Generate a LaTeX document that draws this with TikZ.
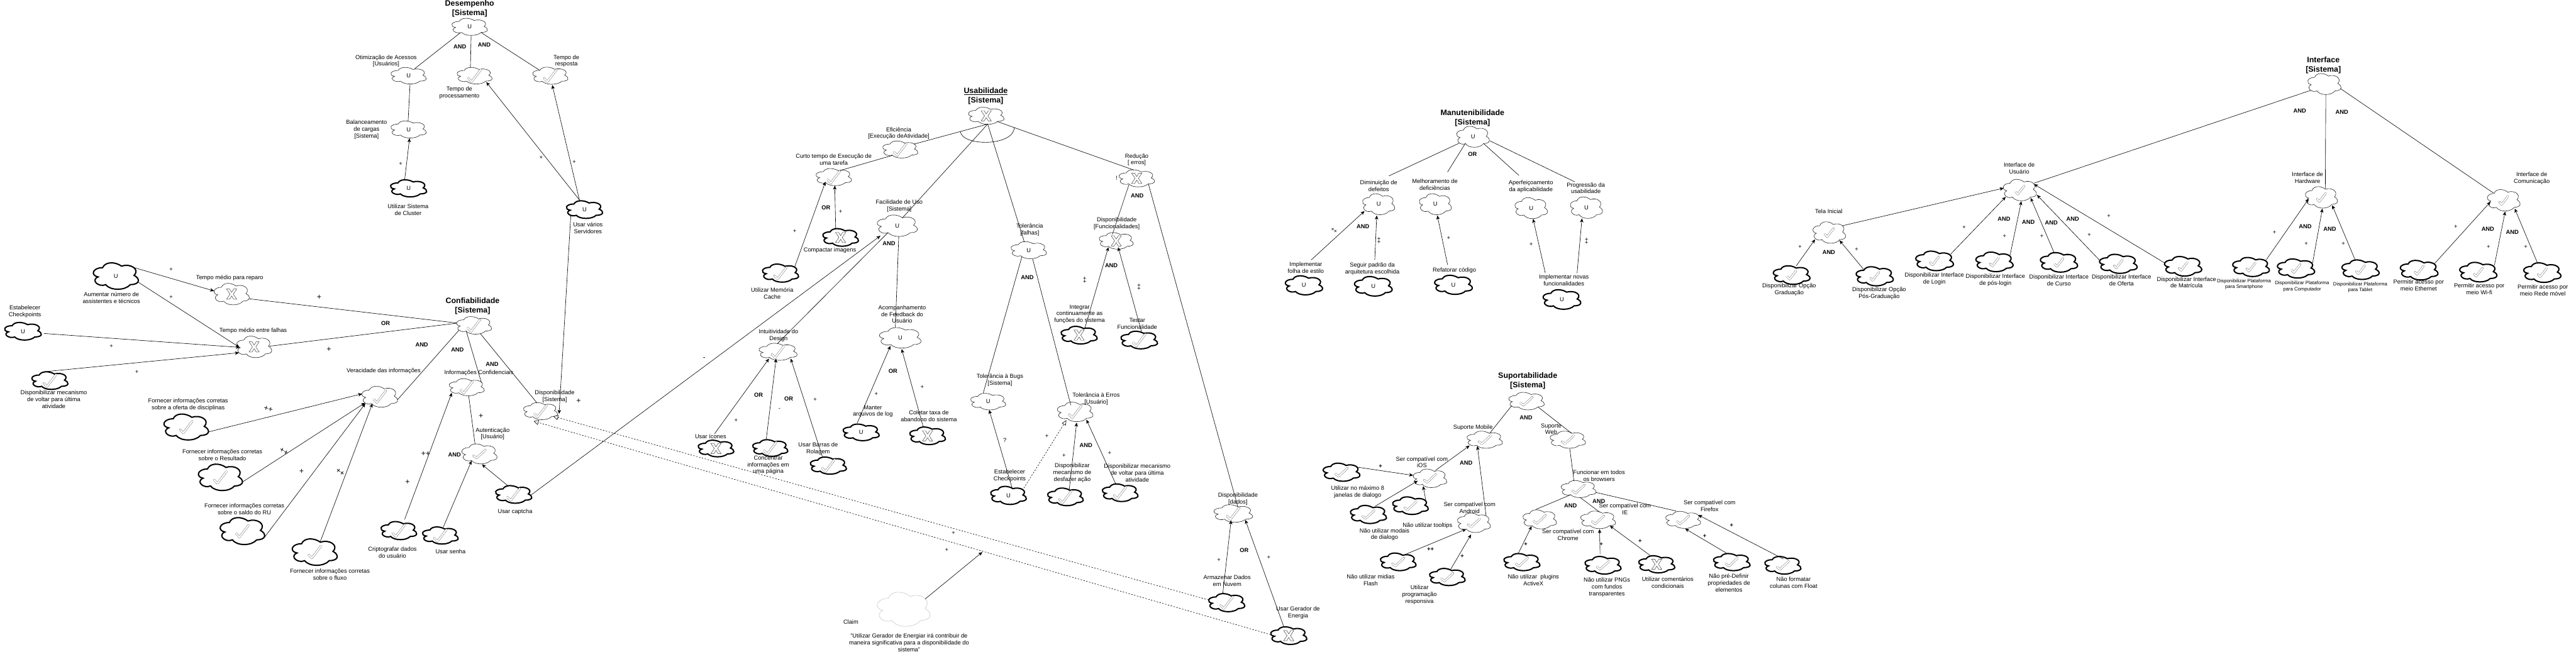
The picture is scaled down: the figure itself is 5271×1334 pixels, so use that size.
\documentclass[tikz,border=0pt]{standalone}
\usepackage{fontspec}
\setmainfont{Liberation Sans}
\usetikzlibrary{arrows.meta}
\newcount\lbn
\newcommand\lb[4][lbl]{\global\advance\lbn by 1 \node[#1] (t\the\lbn) at (#2,#3) {#4};}
\def\mktxtu{U}\def\mktxtc{}\def\mktxtx{}\def\mktxtn{}
\def\chkw{30}\def\chkh{29}
\newcommand\mkdrawu[1]{}
\newcommand\mkdrawn[1]{}
\newcommand\mkdrawc[1]{\begin{scope}[shift={(#1.center)},x=\chkw pt,y=-\chkh pt]
 \draw[chkout] (-.42,.18) -- (-.2,.42) -- (.42,-.42);
 \draw[chkin] (-.42,.18) -- (-.2,.42) -- (.42,-.42);
 \end{scope}}
\newcommand\mkdrawx[1]{\begin{scope}[shift={(#1.center)},x=21pt,y=-21pt]
 \draw[xmk] (-.5,-.5)--(-.2,-.5)--(0,-.17)--(.2,-.5)--(.5,-.5)--(.16,0)--(.5,.5)--(.2,.5)--(0,.17)--(-.2,.5)--(-.5,.5)--(-.16,0)--cycle;
 \end{scope}}
\newcommand\sg[7]{%
 \node[sgbox,minimum width=#4pt,minimum height=#5pt] (#1) at (#2,#3) {\csname mktxt#7\endcsname};
 \begin{scope}[shift={(#1.center)},x=#4pt,y=-#5pt]
 \draw[#6] (-.293,-.318) .. controls (-.517,-.318) and (-.573,-.026) .. (-.394,.033)
  .. controls (-.573,.161) and (-.372,.442) .. (-.226,.325)
  .. controls (-.126,.558) and (.209,.558) .. (.321,.325)
  .. controls (.545,.325) and (.545,.091) .. (.405,-.026)
  .. controls (.545,-.259) and (.321,-.493) .. (.126,-.376)
  .. controls (-.014,-.551) and (-.237,-.551) .. (-.293,-.318) -- cycle;
 \end{scope}
 \csname mkdraw#7\endcsname{#1}}
\newcommand\lk[7]{\draw[#1] ([shift={(#3,#4)}]#2.center) -- ([shift={(#6,#7)}]#5.center);}
\tikzset{
 sgbox/.style={inner sep=0pt,outer sep=0pt,font=\fontsize{12}{14}\selectfont},
 thn/.style={line width=.8pt,black!85},
 thk/.style={line width=2.6pt,black},
 gry/.style={line width=.8pt,black!22},
 chkout/.style={line width=4pt,black!75,line cap=round,line join=round},
 chkin/.style={line width=3.1pt,white,line cap=round,line join=round},
 xmk/.style={line width=.6pt,black!80,fill=white,line join=round},
 lbl/.style={inner sep=0pt,align=center,font=\fontsize{12}{14}\selectfont},
 lbs/.style={inner sep=0pt,align=center,font=\fontsize{10}{12}\selectfont},
 ttl/.style={inner sep=0pt,align=center,font=\fontsize{16}{19}\selectfont\bfseries},
 opl/.style={inner sep=0pt,font=\fontsize{12}{14}\selectfont\bfseries},
 mk/.style={inner sep=0pt,font=\fontsize{12}{14}\selectfont},
 mkb/.style={inner sep=0pt,font=\fontsize{16}{18}\selectfont},
 mkh/.style={inner sep=0pt,font=\fontsize{12}{14}\selectfont\bfseries},
 ln/.style={line width=.8pt,black},
 ar/.style={line width=.8pt,black,-{Stealth[length=8pt,width=7pt,inset=2pt]}},
 da/.style={line width=.8pt,black,dash pattern=on 3pt off 3pt,-{Triangle[open,length=10pt,width=10pt,fill=white]}},
}
\begin{document}
\begin{tikzpicture}[x=1pt,y=-1pt]
\useasboundingbox (0,0) rectangle (5271,1334);
% ---- Desempenho
\sg{des}{961}{55}{73}{35}{thn}{u}
\sg{oti}{836}{155}{72.5}{34}{thn}{u}
\sg{tpr}{971}{155}{72}{34}{thn}{c}
\sg{tre}{1126}{155}{72.5}{35}{thn}{c}
\sg{bal}{836}{265}{72.5}{35}{thn}{u}
\sg{clu}{836}{385.5}{74}{35}{thk}{u}
\sg{vse}{1196}{429}{74}{36}{thk}{u}
% ---- Confiabilidade
\sg{aum}{237}{565}{92}{54}{thk}{u}
\sg{rep}{474}{602}{72}{44}{thn}{x}
\sg{est}{47}{678}{75}{36}{thk}{u}
\sg{fal}{520}{710}{72}{44}{thn}{x}
\sg{vol}{102}{779}{74}{36}{thk}{c}
\sg{ofe}{381}{874}{91}{53}{thk}{c}
\sg{res}{451}{977}{90}{54}{thk}{c}
\sg{sal}{496}{1087}{91}{55}{thk}{c}
\sg{flu}{644}{1130}{92}{54}{thk}{c}
\sg{ver}{777}{812}{73}{43}{thn}{c}
\sg{con}{970}{666}{72}{36}{thn}{c}
\sg{inf}{955}{792.5}{72}{35}{thn}{c}
\sg{dis}{1106}{841.5}{70}{35}{thn}{c}
\sg{cri}{816}{1086}{73}{37}{thk}{c}
\sg{sen}{901}{1096}{73}{35}{thk}{c}
\sg{cap}{1051}{1012}{74}{36}{thk}{c}
\def\chkh{20}
\sg{aut}{981}{929}{72}{41}{thn}{c}
\def\chkh{29}
% ---- Usabilidade
\sg{usa}{2018}{237}{73}{35}{thn}{x}
\sg{efi}{1842}{306}{72}{35}{thn}{c}
\sg{cur}{1706}{362.5}{73}{35}{thn}{c}
\sg{mem}{1597}{559}{74}{37}{thk}{c}
\sg{com}{1720}{486}{73}{36}{thk}{x}
\sg{fac}{1836}{462}{82}{44}{thn}{u}
\sg{acp}{1842}{691.5}{85}{42}{thn}{u}
\sg{ini}{1592}{720}{78}{35}{thn}{c}
\sg{ico}{1465}{918}{73}{34}{thk}{x}
\sg{cnc}{1576}{917}{72}{34}{thk}{c}
\sg{bar}{1695}{953}{74}{35}{thk}{c}
\sg{log}{1762}{885}{74}{34}{thk}{u}
\sg{aba}{1898}{892}{73}{36}{thk}{x}
\sg{tfa}{2105}{512}{73}{35}{thn}{u}
\sg{bug}{2022}{822}{72}{34}{thn}{u}
\sg{err}{2200}{843}{73}{40}{thn}{c}
\sg{chp}{2063.5}{1014}{73}{37}{thk}{u}
\sg{dfz}{2180}{1017}{73}{36}{thk}{c}
\sg{vlt}{2292}{1008.5}{73}{36}{thk}{c}
\sg{red}{2326}{365}{73}{35}{thn}{x}
\sg{dfu}{2284}{493}{70}{34}{thn}{x}
\sg{itg}{2208}{686}{74}{36}{thk}{x}
\sg{tst}{2331}{696}{75}{36}{thk}{c}
\sg{dsi}{2523.5}{1051}{79}{36}{thn}{c}
\sg{arm}{2510}{1233.5}{74}{37}{thk}{c}
\sg{ger}{2637}{1301}{74}{36}{thk}{x}
\sg{cla}{1849}{1247}{108}{70}{gry}{n}
% ---- Manutenibilidade
\sg{man}{3014}{280}{67}{43}{thn}{u}
\sg{dim}{2821}{418}{66}{43}{thn}{u}
\sg{mel}{2937}{418}{66}{43}{thn}{u}
\sg{ape}{3133}{426}{67}{43}{thn}{u}
\sg{pro}{3246}{425}{66}{44}{thn}{u}
\sg{fol}{2668}{584}{76}{39}{thk}{u}
\sg{seg}{2810}{586}{77}{40}{thk}{u}
\sg{ref}{2974}{583}{77}{39}{thk}{u}
\sg{nov}{3196}{613}{77}{40}{thk}{u}
% ---- Suportabilidade
\def\chkw{29}\def\chkh{20}
\sg{sup}{3123.5}{821}{73}{36}{thn}{c}
\sg{mob}{3038}{900}{73}{35}{thn}{c}
\sg{web}{3208}{900}{73}{35}{thn}{c}
\sg{ios}{2926}{979}{69}{38}{thn}{c}
\sg{oit}{2745}{966.5}{75}{37}{thk}{c}
\sg{mod}{2800}{1053}{74}{37}{thk}{c}
\sg{too}{2886}{1035}{73}{36}{thk}{c}
\sg{and}{3016}{1070}{68}{40}{thn}{c}
\sg{fla}{2861}{1150}{73}{36}{thk}{c}
\sg{rsp}{2961.5}{1181}{73}{35}{thk}{c}
\sg{fun}{3230}{1001}{72}{35}{thn}{c}
\sg{chr}{3150.5}{1063}{69}{39}{thn}{c}
\sg{iex}{3270}{1064}{72}{36}{thn}{c}
\sg{fir}{3444}{1064}{72}{35}{thn}{c}
\sg{atx}{3114}{1150.5}{74}{35}{thk}{c}
\sg{png}{3280}{1157}{74}{36}{thk}{c}
\sg{cmt}{3390}{1155}{74}{35}{thk}{x}
\sg{pre}{3543.5}{1150.5}{75}{35}{thk}{c}
\sg{flo}{3648}{1157}{74}{36}{thk}{c}
% ---- Interface
\def\chkw{21}\def\chkh{20}
\sg{itf}{4756}{172}{68}{43}{thn}{n}
\sg{ius}{4133}{389}{68}{44}{thn}{c}
\sg{ihw}{4750}{404}{66}{44}{thn}{c}
\sg{ico2}{5123}{410}{67}{44}{thn}{c}
\sg{tel}{3743}{476}{67}{44}{thn}{c}
\sg{gra}{3666}{563}{75}{38}{thk}{c}
\sg{pos}{3836}{565.5}{76}{39}{thk}{c}
\sg{lgn}{3958.5}{534}{77}{40}{thk}{c}
\sg{plg}{4081}{536}{76}{40}{thk}{c}
\sg{cso}{4213}{537}{76}{40}{thk}{c}
\sg{oft}{4334.5}{540}{77}{39}{thk}{c}
\sg{mat}{4467}{545}{76}{40}{thk}{c}
\sg{sma}{4606}{546.5}{75}{39}{thk}{c}
\sg{cpt}{4698}{549.5}{76}{39}{thk}{c}
\sg{tab}{4830}{552}{76}{40}{thk}{c}
\sg{eth}{4950}{553}{77}{40}{thk}{c}
\sg{wif}{5071}{557}{76}{40}{thk}{c}
\sg{rdm}{5202}{558}{76}{40}{thk}{c}
% ---- helper points
\coordinate (clp) at (2010,1130);
\coordinate (arcl) at (1965,269);
\coordinate (arcr) at (2075.5,260.5);
% ---- connectors Desempenho
\lk{ln}{des}{-19}{12}{oti}{12}{-14}
\lk{ln}{des}{3}{18}{tpr}{-8.5}{-17}
\lk{ln}{des}{24}{12}{tre}{-21.5}{-11}
\lk{ln}{oti}{3}{17}{bal}{-1}{-16}
\lk{ar}{clu}{-8}{-17.5}{bal}{2}{18}
\lk{ar}{vse}{-9}{-18}{tpr}{24}{13}
\lk{ar}{vse}{-10}{-18}{tre}{4}{19}
\lk{ar}{vse}{-28}{11}{dis}{38}{5.5}
% ---- connectors Confiabilidade
\lk{ar}{aum}{38.5}{-17}{rep}{-36}{-6.5}
\lk{ar}{aum}{45}{12}{fal}{-30}{1}
\lk{ar}{est}{43}{4.5}{fal}{-29}{1}
\lk{ar}{vol}{-13}{-18}{fal}{-31}{12}
\lk{ln}{rep}{36}{9.6}{con}{-36}{-5}
\lk{ln}{fal}{32}{-1.5}{con}{-36}{-4.5}
\lk{ar}{ofe}{45.5}{10}{ver}{-36}{-6}
\lk{ar}{res}{45}{9.6}{ver}{-30}{12.5}
\lk{ar}{sal}{45}{13}{ver}{-29.5}{14}
\lk{ar}{flu}{11.6}{-22}{ver}{-15}{14}
\lk{ln}{ver}{36}{6.6}{con}{-31}{10}
\lk{ln}{con}{-16}{11.5}{inf}{30}{-9.5}
\lk{ln}{con}{13}{17}{dis}{-7}{-16.5}
\lk{ln}{inf}{4}{17.5}{aut}{-9}{-20}
\lk{ar}{cri}{12}{-23}{inf}{-30.5}{11.5}
\lk{ar}{sen}{6}{-17}{aut}{-16}{14}
\lk{ar}{cap}{-12}{-18}{aut}{5}{21.5}
\lk{ar}{cap}{35}{1.6}{fac}{-34.5}{20.6}
\lk{da}{arm}{-37}{-5.5}{dis}{26}{10.5}
\lk{da}{ger}{-37}{-2}{dis}{-14}{20.5}
\draw[ar] ([shift={(44,-21)}]cla.center) -- (clp);
% ---- connectors Usabilidade
\draw[ln] (arcl) .. controls (1968,300) and (2075,300) .. (arcr);
\lk{ln}{usa}{3}{17}{efi}{28}{-11}
\lk{ln}{efi}{-16}{12}{cur}{13}{-13.5}
\lk{ar}{mem}{29}{-12.5}{cur}{-17}{9.5}
\lk{ar}{com}{-10}{-17.5}{cur}{2}{17.5}
\lk{ln}{usa}{3}{17}{fac}{10}{-15.5}
\lk{ln}{usa}{3}{17}{tfa}{-9}{-16.4}
\lk{ln}{usa}{22}{11.6}{red}{-6}{-17}
\lk{ln}{red}{-16}{13}{dfu}{-8}{-13}
\lk{ln}{red}{24}{12}{dsi}{9.5}{-13}
\lk{ar}{itg}{12}{-15}{dfu}{-16}{13}
\lk{ar}{tst}{5}{-16}{dfu}{4}{13}
\lk{ln}{tfa}{-14}{13.4}{bug}{-10}{-18}
\lk{ln}{tfa}{8}{18}{err}{-9}{-14}
\lk{ln}{fac}{3}{22}{acp}{-10}{-21}
\lk{ln}{fac}{-19}{14}{ini}{-1}{-17}
\lk{ar}{ico}{-3}{-30}{ini}{-18.5}{14}
\lk{ar}{cnc}{-8}{-19}{ini}{-4}{14}
\lk{ar}{bar}{-12.5}{-19}{ini}{26}{14}
\lk{ar}{log}{-8}{-19}{acp}{-20}{16.5}
\lk{ar}{aba}{-9}{-18.4}{acp}{3}{23}
\lk{ar}{chp}{7.5}{-15}{bug}{2}{17}
\draw[line width=.8pt,black,dash pattern=on 3pt off 3pt,-{Triangle[open,length=10pt,width=9pt]}] ([shift={(31.5,-15)}]chp.center) -- ([shift={(-18,17)}]err.center);
\lk{ar}{dfz}{8}{-15.5}{err}{3}{22}
\lk{ar}{vlt}{-9}{-18}{err}{23}{16}
\lk{ar}{arm}{-8}{-18.5}{dsi}{-4.5}{14}
\lk{ar}{ger}{-10}{-18}{dsi}{24.5}{13}
% ---- connectors Manutenibilidade
\lk{ln}{man}{-28}{13}{dim}{21}{-58}
\lk{ln}{man}{-16}{14}{mel}{25}{-66}
\lk{ln}{man}{22}{14}{ape}{-25}{-67}
\lk{ln}{man}{34}{8}{pro}{-24}{-53}
\lk{ar}{fol}{15}{-52}{dim}{-29}{14}
\lk{ar}{seg}{3}{-54}{dim}{-4}{23}
\lk{ar}{ref}{-12}{-41}{mel}{4}{23}
\lk{ar}{nov}{-34}{-54}{ape}{4}{22}
\lk{ar}{nov}{31}{-54}{pro}{-9}{22}
% ---- connectors Suportabilidade
\lk{ln}{sup}{-30}{9}{mob}{10}{-13}
\lk{ln}{sup}{23.5}{12}{web}{8}{-13}
\lk{ar}{ios}{11}{-16}{mob}{-31}{12}
\lk{ar}{and}{25}{-13}{mob}{-15}{13}
\lk{ar}{oit}{31.5}{-10.5}{ios}{-34.4}{-6}
\lk{ar}{mod}{14}{-17}{ios}{-25}{5}
\lk{ar}{too}{32}{-8}{ios}{-14}{16}
\lk{ar}{fla}{14}{-15}{and}{-16}{13}
\lk{ar}{rsp}{7}{-16}{and}{-6}{24}
\lk{ln}{web}{4}{18}{fun}{-9.5}{-17}
\lk{ln}{fun}{-17}{12}{chr}{-8.5}{-20}
\lk{ln}{fun}{3}{17}{iex}{3}{-16}
\lk{ln}{fun}{36}{7}{fir}{-14}{-18}
\lk{ar}{atx}{-7}{-18.5}{chr}{-16.5}{14}
\lk{ar}{png}{-6}{-23}{iex}{3}{19}
\lk{ar}{cmt}{-12}{-17}{iex}{24}{12}
\lk{ar}{pre}{-11}{-18.5}{fir}{4}{18}
\lk{ar}{flo}{1}{-13}{fir}{31}{-10}
% ---- connectors Interface
\lk{ln}{itf}{-28}{13}{ius}{28.7}{-14}
\lk{ln}{itf}{3}{21}{ihw}{8}{-18}
\lk{ln}{itf}{34}{10}{ico2}{-21}{-15}
\lk{ar}{tel}{27}{-14}{ius}{-33}{-4}
\lk{ar}{gra}{9.5}{-19}{tel}{-29}{14}
\lk{ar}{pos}{-23}{-14.5}{tel}{21}{16}
\lk{ar}{lgn}{33}{-14}{ius}{-29}{14}
\lk{ar}{plg}{32}{-14}{ius}{3}{23}
\lk{ar}{cso}{-10}{-20}{ius}{22}{16}
\lk{ar}{oft}{-39}{-8}{ius}{35}{10}
\lk{ar}{mat}{-38}{-7}{ius}{29}{-12}
\lk{ar}{sma}{31}{-14.5}{ihw}{-26}{3}
\lk{ar}{cpt}{34}{-11.5}{ihw}{2}{23}
\lk{ar}{tab}{-11}{-20}{ihw}{22}{16}
\lk{ar}{eth}{32}{-14}{ico2}{-27}{3}
\lk{ar}{wif}{33}{-14}{ico2}{3}{23}
\lk{ar}{rdm}{-10}{-20}{ico2}{22.6}{17}
% ---- labels Desempenho
\lb[ttl]{961}{18}{Desempenho\\{[}Sistema]}
\lb{790}{125}{Otimização de Acessos\\{[}Usuários]}
\lb{940}{190}{Tempo de\\processamento}
\lb{1159}{125}{Tempo de\\resposta}
\lb{750}{265}{Balanceamento\\de cargas\\{[}Sistema]}
\lb{835}{429}{Utilizar Sistema\\de Cluster}
\lb{1203}{467}{Usar vários\\Servidores}
\lb[opl]{941}{96}{AND}
\lb[opl]{991}{92}{AND}
\lb[mk]{820}{335}{+}
\lb[mk]{1107}{323}{+}
\lb[mk]{1175}{332}{+}
% ---- labels Confiabilidade
\lb[ttl]{967}{626}{Confiabilidade\\{[}Sistema]}
\lb{228}{610}{Aumentar número de\\assistentes e técnicos}
\lb{470}{569}{Tempo médio para reparo}
\lb{51}{638}{Estabelecer\\Checkpoints}
\lb{518}{677}{Tempo médio entre falhas}
\lb{110}{817}{Disponibilizar mecanismo\\de voltar para última\\atividade}
\lb{385}{828}{Fornecer informações corretas\\sobre a oferta de disciplinas}
\lb{455}{931}{Fornecer informações corretas\\sobre o Resultado}
\lb{500}{1042}{Fornecer informações corretas\\sobre o saldo do RU}
\lb{675}{1176}{Fornecer informações corretas\\sobre o fluxo}
\lb{785}{759}{Veracidade das informações}
\lb{980}{763}{Informações Confidenciais}
\lb{1135}{811}{Disponibilidade\\{[}Sistema]}
\lb{1008}{888}{Autenticação\\{[}Usuário]}
\lb{803}{1131}{Criptografar dados\\do usuário}
\lb{922}{1129}{Usar senha}
\lb{1054}{1047}{Usar captcha}
\lb[opl]{789}{662}{OR}
\lb[opl]{863}{705}{AND}
\lb[opl]{936}{716}{AND}
\lb[opl]{1007}{745}{AND}
\lb[opl]{930}{931}{AND}
\lb[mk]{350}{552}{+}
\lb[mk]{350}{608.5}{+}
\lb[mk]{228}{708.5}{+}
\lb[mk]{280}{761.5}{+}
\lb[mkb]{653}{609}{+}
\lb[mkb]{673}{715.6}{+}
\lb[mkb,rotate=-12]{549}{837.5}{++}
\lb[mkb,rotate=-30]{581}{924}{++}
\lb[mkb]{617}{965.6}{+}
\lb[mkb,rotate=-40]{696}{966.5}{++}
\lb[mkb]{1184}{820.6}{+}
\lb[mkb]{984}{852}{+}
\lb[mkb]{871}{929}{++}
\lb[mkb]{834}{987}{+}
\lb[mkh]{1441}{733.5}{-}
% ---- labels Usabilidade
\lb[ttl]{2017}{197}{\underline{Usabilidade}\\{[}Sistema]}
\lb{1839}{273}{Eficiência\\{[}Execução deAtividade]}
\lb{1706}{326}{Curto tempo de Execução de\\uma tarefa}
\lb{1580}{600}{Utilizar Memória\\Cache}
\lb{1698}{512}{Compactar imagens}
\lb{1840}{422}{Facilidade de Uso\\{[}Sistema]}
\lb{1846}{643}{Acompanhamento\\de Feedback do\\Usuário}
\lb{1593}{687}{Intuitividade do\\Design}
\lb{1454}{893}{Usar ícones}
\lb{1572}{952}{Concentrar\\informações em\\uma página}
\lb{1674}{918}{Usar Barras de\\Rolagem}
\lb{1786}{842}{Manter\\arquivos de log}
\lb{1900.6}{852}{Coletar taxa de\\abandono do sistema}
\lb{2107}{470}{Tolerância\\{[}falhas]}
\lb{2046}{778}{Tolerância à Bugs\\{[}Sistema]}
\lb{2243}{816}{Tolerância à Erros\\{[}Usuário]}
\lb{2066}{974}{Estabelecer\\Checkpoints}
\lb{2194}{967.5}{Disponibilizar\\mecanismo de\\desfazer ação}
\lb{2327}{968}{Disponibilizar mecanismo\\de voltar para última\\atividade}
\lb{2326}{327}{Redução\\{[} erros]}
\lb{2285}{364}{!}
\lb{2285}{458}{Disponibilidade\\{[}Funcionalidades]}
\lb{2209}{643}{Integrar\\continuamente as\\funções do sistema}
\lb{2327}{663}{Testar\\Funcionalidade}
\lb{2533}{1021}{Disponibilidade\\{[}dados]}
\lb{2511}{1189}{Armazenar Dados\\em Nuvem}
\lb{2656}{1254}{Usar Gerador de\\Energia}
\lb{1741}{1273}{Claim}
\lb{1860}{1315}{"Utilizar Gerador de Energiar irá contribuir de\\maneira significativa para a disponibilidade do\\sistema"}
\lb[opl]{1690}{425}{OR}
\lb[opl]{1819}{498}{AND}
\lb[opl]{2102}{567.5}{AND}
\lb[opl]{2327}{400}{AND}
\lb[opl]{2274}{544}{AND}
\lb[opl]{2222}{911}{AND}
\lb[opl]{1552}{809}{OR}
\lb[opl]{1614}{816}{OR}
\lb[opl]{1827}{759}{OR}
\lb[opl]{2546}{1126}{OR}
\lb[mk]{1626}{473.5}{+}
\lb[mk]{1720}{433}{+}
\lb[mk]{1506}{861}{+}
\lb[mk]{1595}{838}{-}
\lb[mk]{1668}{818}{+}
\lb[mk]{1793}{807}{+}
\lb[mk]{1887}{792}{+}
\lb[mk]{2056}{901}{?}
\lb[mk]{2142}{893}{+}
\lb[mk]{2177}{933}{+}
\lb[mk]{2270.5}{927}{+}
\lb[mk,rotate=90]{2220}{573}{++}
\lb[mk,rotate=90]{2331}{587}{++}
\lb[mk]{1951}{1091.5}{+}
\lb[mk]{1937}{1126}{+}
\lb[mk]{2494}{1146}{+}
\lb[mk]{2596}{1141}{+}
% ---- labels Manutenibilidade
\lb[ttl]{3013}{241.5}{Manutenibilidade\\{[}Sistema]}
\lb{2821}{380}{Diminuição de\\defeitos}
\lb{2936}{378}{Melhoramento de\\deficiências}
\lb{3132.5}{382}{Aperfeiçoamento\\da aplicabilidade}
\lb{3245}{385}{Progressão da\\usabilidade}
\lb{2672}{548}{Implementar\\folha de estilo}
\lb{2808}{550}{Seguir padrão da\\arquitetura escolhida}
\lb{2976}{554}{Refatorar código}
\lb{3200}{574}{Implementar novas\\funcionalidades}
\lb[opl]{3013}{316}{OR}
\lb[opl]{2789}{463}{AND}
\lb[mk,rotate=-40]{2729.5}{472}{++}
\lb[mk,rotate=90]{2822}{492}{++}
\lb[mk]{2964}{487}{+}
\lb[mk]{3133}{500}{+}
\lb[mk,rotate=90]{3247}{493}{++}
% ---- labels Suportabilidade
\lb[ttl]{3126}{779.5}{Suportabilidade\\{[}Sistema]}
\lb{3014}{875}{Suporte Mobile}
\lb{3174}{878}{Suporte\\Web}
\lb{2909.5}{946}{Ser compatível com\\iOS}
\lb{2778}{1007}{Utilizar no máximo 8\\janelas de dialogo}
\lb{2833}{1094}{Não utilizar modais\\de dialogo}
\lb{2921}{1076}{Não utilizar tooltips}
\lb{3007}{1039}{Ser compatível com\\Android}
\lb{2804.6}{1187}{Não utilizar midias\\Flash}
\lb{2904.6}{1217}{Utilizar\\programação\\responsiva}
\lb{3272}{974}{Funcionar em todos\\os browsers}
\lb{3208.5}{1095}{Ser compatível com\\Chrome}
\lb{3325}{1042}{Ser compatível com\\IE}
\lb{3498}{1035}{Ser compatível com\\Firefox}
\lb{3137.6}{1187}{Não utilizar\ \ plugins\\ActiveX}
\lb{3288}{1202}{Não utilizar PNGs\\com fundos\\transparentes}
\lb{3412.6}{1192}{Utilizar comentários\\condicionais}
\lb{3537.6}{1193}{Não pré-Definir\\propriedades de\\elementos}
\lb{3670}{1193}{Não formatar\\colunas com Float}
\lb[opl]{3122.5}{855}{AND}
\lb[opl]{3000}{948}{AND}
\lb[opl]{3213.5}{1035}{AND}
\lb[opl]{3271.6}{1026}{AND}
\lb[mkh]{2824.6}{954}{+}
\lb[mkh]{2927}{1125}{++}
\lb[mkh]{2992}{1139}{+}
\lb[mkh]{3122}{1114}{+}
\lb[mkh]{3276.6}{1114}{+}
\lb[mkh]{3356}{1108}{+}
\lb[mkh]{3488}{1098}{+}
\lb[mkh]{3543}{1075}{+}
% ---- labels Interface
\lb[ttl]{4754}{133.5}{Interface\\{[}Sistema]}
\lb{4131.6}{345}{Interface de\\Usuário}
\lb{4721.6}{364}{Interface de\\Hardware}
\lb{5180.5}{365}{Interface de\\Comunicação}
\lb{3742}{432}{Tela Inicial}
\lb{3661}{593}{Disponibilizar Opção\\Graduação}
\lb{3845}{600}{Disponibilizar Opção\\Pós-Graduação}
\lb{3958}{571}{Disponibilizar Interface\\de Login}
\lb{4083}{573}{Disponibilizar Interface\\de pós-login}
\lb{4213}{573}{Disponibilizar Interface\\de Curso}
\lb{4341}{573}{Disponibilizar Interface\\de Oferta}
\lb{4474}{578}{Disponibilizar Interface\\de Matrícula}
\lb[lbs]{4591.6}{582}{Disponibilizar Plataforma\\para Smartphone}
\lb[lbs]{4710.6}{586}{Disponibilizar Plataforma\\para Computador}
\lb[lbs]{4829.5}{588}{Disponibilizar Plataforma\\para Tablet}
\lb{4949}{584}{Permitir acesso por\\meio Ethernet}
\lb{5073}{592}{Permitir acesso por\\meio Wi-fi}
\lb{5203}{594}{Permitir acesso por\\meio Rede móvel}
\lb[opl]{4705.6}{227}{AND}
\lb[opl]{4792}{230}{AND}
\lb[opl]{3742}{516}{AND}
\lb[opl]{4100.5}{448}{AND}
\lb[opl]{4150.5}{454}{AND}
\lb[opl]{4197.5}{456}{AND}
\lb[opl]{4241}{448}{AND}
\lb[opl]{4717}{463}{AND}
\lb[opl]{4767}{469}{AND}
\lb[opl]{5090.6}{469}{AND}
\lb[opl]{5140.6}{475}{AND}
\lb[mk]{3683}{506}{+}
\lb[mk]{3799}{510}{+}
\lb[mk]{4019}{465}{+}
\lb[mk]{4101.5}{484}{+}
\lb[mk]{4178}{484}{+}
\lb[mk]{4275}{481}{+}
\lb[mk]{4315}{442}{+}
\lb[mk]{4654}{476}{+}
\lb[mk]{4719}{499}{+}
\lb[mk]{4795}{499}{+}
\lb[mk]{5025}{464}{+}
\lb[mk]{5092}{505}{+}
\lb[mk]{5168}{505}{+}
\end{tikzpicture}
\end{document}
